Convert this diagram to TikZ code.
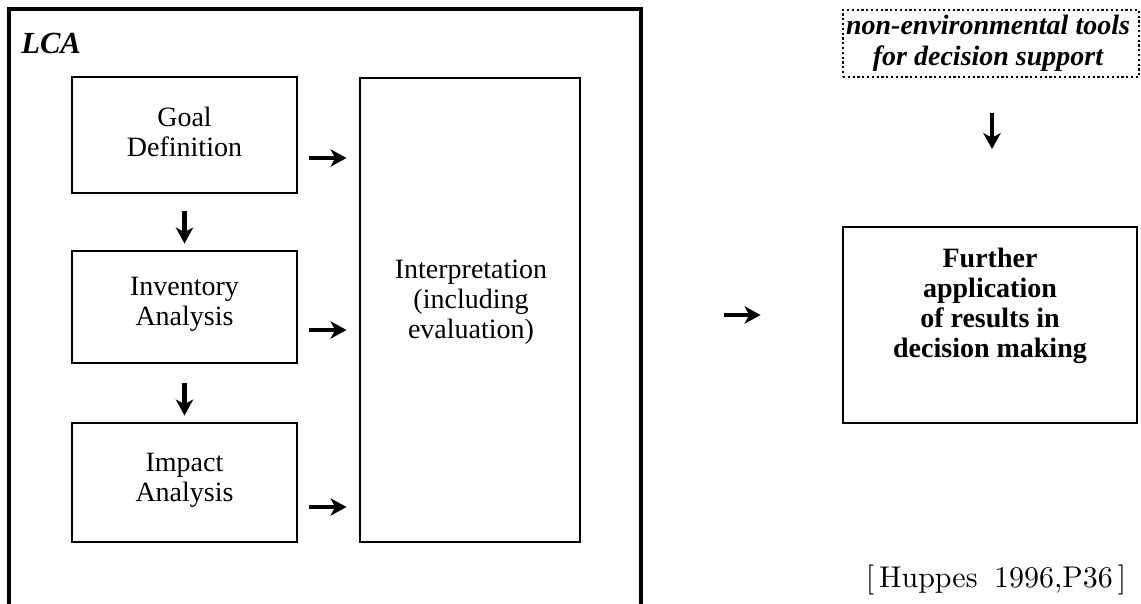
\documentclass[tikz,border=0pt]{standalone}
\usepackage{fontspec}
\setmainfont{Liberation Serif}
\newfontfamily\citefont[Extension=.otf]{lmroman10-regular}
\usetikzlibrary{arrows.meta,fit,calc}
\begin{document}
\begin{tikzpicture}[x=0.75pt,y=-0.75pt,
  box/.style={draw, line width=2.2pt, inner sep=0pt},
  dotbox/.style={draw, dotted, line width=1.6pt, inner sep=0pt},
  lbl/.style={font=\fontsize{21}{22.5}\selectfont, align=center, inner sep=0pt},
  flow/.style={line width=3.2pt, -{Stealth[length=12pt,width=13pt,inset=3.5pt]}}]
\useasboundingbox (0,0) rectangle (1141,603);

% LCA frame, open at the bottom
\draw[line width=2.3pt] (9,606) -- (9,9) -- (641,9) -- (641,606);
\node[anchor=base west, inner sep=0pt, font=\fontsize{23}{25}\selectfont\bfseries\itshape] (lca) at (21,53) {LCA};

% LCA phases
\node[box, fit={(72,77) (297,193)}] (goal) {};
\node[box, fit={(72,251) (297,363)}] (inv) {};
\node[box, fit={(72,423) (297,542)}] (imp) {};
\node[box, fit={(360,78) (580,542)}] (interp) {};

\node[lbl] (goalt) at (184.5,132) {Goal\\Definition};
\node[lbl] (invt) at (184.5,304) {Inventory\\Analysis};
\node[lbl] (impt) at (184.5,480) {Impact\\Analysis};
\node[lbl] (interpt) at (471,302) {Interpretation\\(including\\evaluation)};

% phase sequence
\draw[flow] ($(goal.south)+(0,17)$) -- ($(inv.north)+(0,-6)$);
\draw[flow] ($(inv.south)+(0,19)$) -- ($(imp.north)+(0,-6)$);

% every phase feeds the interpretation
\draw[flow] ($(goal.east)+(11,23)$) -- ($(interp.west |- goal.east)+(-12,23)$);
\draw[flow] ($(inv.east)+(11,23)$) -- ($(interp.west |- inv.east)+(-12,23)$);
\draw[flow] ($(imp.east)+(11,24.5)$) -- ($(interp.west |- imp.east)+(-12,24.5)$);

% decision side
\node[dotbox, fit={(843,10) (1139,77)}] (tools) {};
\node[lbl, font=\fontsize{21}{23}\selectfont\bfseries\itshape] (toolst) at (988,43) {non-environmental tools\\for decision support};
\node[box, fit={(843,227) (1137,423)}] (further) {};
\node[lbl, font=\fontsize{21}{22.5}\selectfont\bfseries] (furthert) at (990,306) {Further\\application\\of results in\\decision making};

\draw[flow] ($(tools.south)+(1,35)$) -- ($(tools.south)+(1,71)$);
\draw[flow] ($(interp.east |- 0,315)+(143,0)$) -- ($(further.west |- 0,315)+(-81,0)$);

\node[inner sep=0pt, font=\citefont\fontsize{22.5}{24}\selectfont] (cite) at (996,580) {[\,Huppes\hspace{0.55em}1996,P36\,]};
\end{tikzpicture}
\end{document}
